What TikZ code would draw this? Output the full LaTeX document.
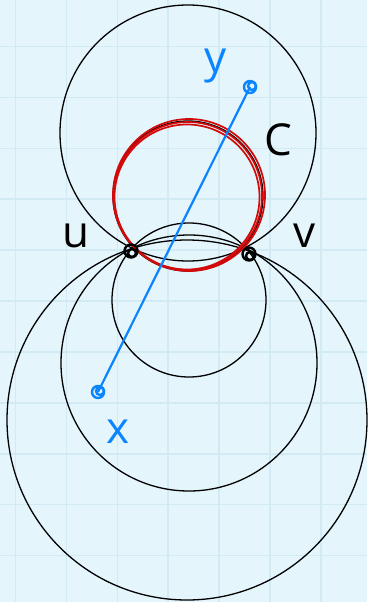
\documentclass[tikz,border=0pt]{standalone}
\usepackage{fontspec}
\setmainfont{Open Sans}
\definecolor{paper}{RGB}{228,245,252}
\definecolor{gridline}{RGB}{210,234,243}
\definecolor{penblue}{RGB}{10,132,255}
\definecolor{penred}{RGB}{210,10,10}
\tikzset{
  circ/.style={draw=black, line width=1.3pt},
  redcirc/.style={draw=penred, line width=1.7pt},
  dotmark/.style={line width=2.4pt},
  lbl/.style={font=\fontsize{44}{44}\selectfont, inner sep=0pt}
}
\begin{document}
\begin{tikzpicture}[x=1pt, y=-1pt]

% Parameters
\def\cellSize{50.9}       % Grid spacing
\def\gridX{15.5}          % First vertical grid line
\def\gridY{46.5}          % First horizontal grid line

% Paper and grid
\fill[paper] (0,0) rectangle (367,602);
\useasboundingbox (0,0) rectangle (367,602);
\foreach \i in {0,...,6} {
    \pgfmathsetmacro\gx{\gridX + \i*\cellSize}
    \draw[gridline, line width=1.6pt] (\gx,0) -- (\gx,602);
}
\foreach \j in {0,...,10} {
    \pgfmathsetmacro\gy{\gridY + \j*\cellSize}
    \draw[gridline, line width=1.6pt] (0,\gy) -- (367,\gy);
}

% Circles through u and v
\draw[circ] (188,133) circle (128);
\draw[circ] (188,196) circle (75);
\draw[circ] (189,300) circle (77);
\draw[circ] (189,363) circle (128);
\draw[circ] (187,420) circle (180);

% The red circle C, gone over a few times
\draw[redcirc] (188,196) circle (74);
\draw[redcirc] (189,195) circle (76);
\draw[redcirc] (187,197) circle (72.5);

% Points
\coordinate (u) at (131,251);
\coordinate (v) at (249,254);
\coordinate (y) at (250,87);
\coordinate (x) at (98,392);

\draw[penblue, line width=2.2pt] (x) -- (y);

\foreach \p in {u,v} {
    \draw[dotmark] (\p) circle (6.5);
    \draw[dotmark] ([xshift=1pt,yshift=-2pt]\p) circle (4);
}
\foreach \p in {x,y} {
    \draw[dotmark, penblue] (\p) circle (6);
    \draw[dotmark, penblue] ([xshift=2pt,yshift=1pt]\p) circle (4);
}

% Labels
\node[lbl] (ulbl) at (76,236) {u};
\node[lbl] (vlbl) at (305,236) {v};
\node[lbl] (clbl) at (278,140) {C};
\node[lbl, text=penblue] (ylbl) at (216,66) {y};
\node[lbl, text=penblue] (xlbl) at (118,432) {x};

\end{tikzpicture}
\end{document}
